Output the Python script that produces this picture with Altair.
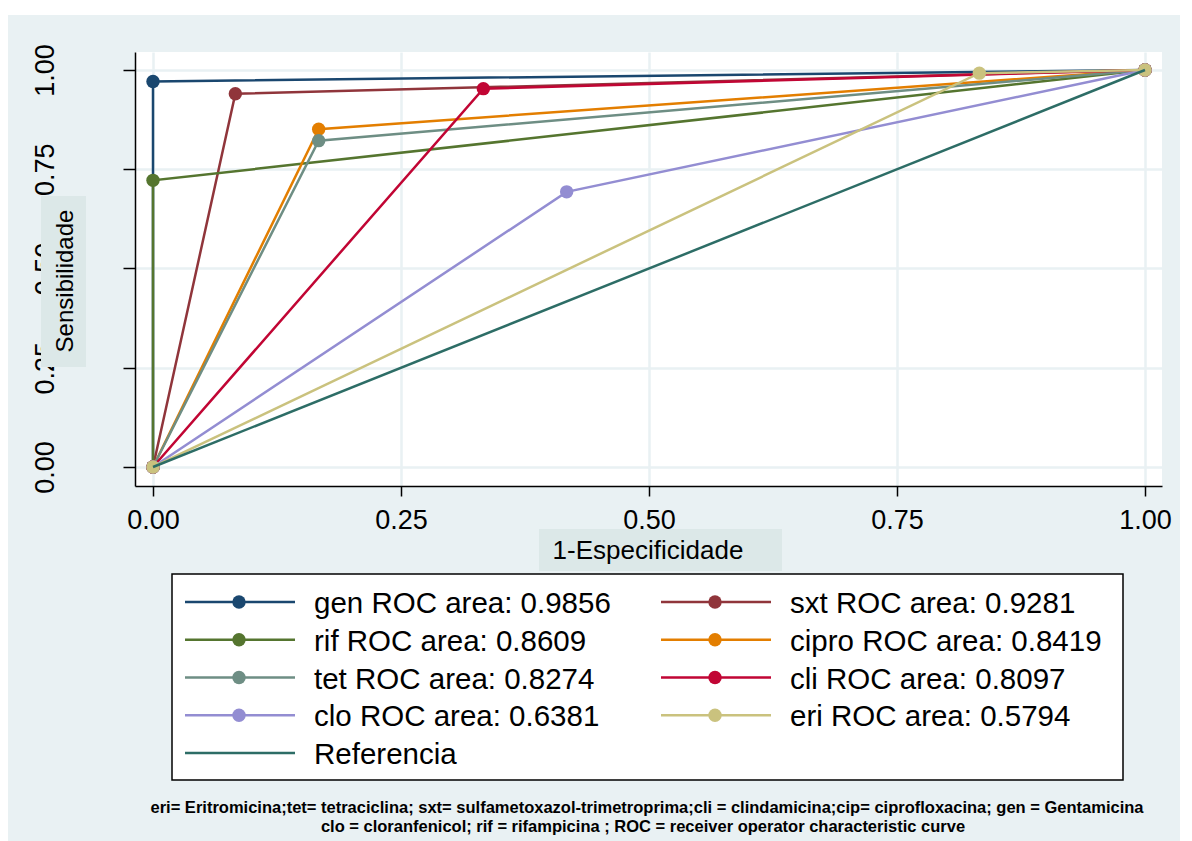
import altair as alt
import pandas as pd

# ---------------- data ----------------
SERIES = ["gen", "sxt", "rif", "cipro", "tet", "cli", "clo", "eri", "Referencia"]
LEGEND_LABELS = [
    "gen ROC area: 0.9856", "sxt ROC area: 0.9281",
    "rif ROC area: 0.8609", "cipro ROC area: 0.8419",
    "tet ROC area: 0.8274", "cli ROC area: 0.8097",
    "clo ROC area: 0.6381", "eri ROC area: 0.5794",
    "Referencia",
]
COLORS = ["#1a476f", "#90353b", "#55752f", "#e37e00", "#6e8e84",
          "#c10534", "#938dd2", "#cac27e", "#2d6d66"]

gen_fpr = [0.0, 0.0, 1.0]
gen_tpr = [0.0, 0.971, 1.0]
sxt_fpr = [0.0, 0.083, 1.0]
sxt_tpr = [0.0, 0.940, 1.0]
rif_fpr = [0.0, 0.0, 1.0]
rif_tpr = [0.0, 0.722, 1.0]
cipro_fpr = [0.0, 0.167, 1.0]
cipro_tpr = [0.0, 0.851, 1.0]
tet_fpr = [0.0, 0.167, 1.0]
tet_tpr = [0.0, 0.822, 1.0]
cli_fpr = [0.0, 0.333, 1.0]
cli_tpr = [0.0, 0.953, 1.0]
clo_fpr = [0.0, 0.417, 1.0]
clo_tpr = [0.0, 0.693, 1.0]
eri_fpr = [0.0, 0.833, 1.0]
eri_tpr = [0.0, 0.992, 1.0]
ref_fpr = [0.0, 1.0]
ref_tpr = [0.0, 1.0]

TICKS = [0.0, 0.25, 0.5, 0.75, 1.0]
X_TITLE = "1-Especificidade"
Y_TITLE = "Sensibilidade"
FOOTER = [
    "eri= Eritromicina;tet= tetraciclina; sxt= sulfametoxazol-trimetroprima;cli =  clindamicina;cip= ciprofloxacina; gen = Gentamicina",
    "clo = cloranfenicol; rif = rifampicina ; ROC = receiver operator characteristic curve",
]

CURVES = [
    ("gen", gen_fpr, gen_tpr), ("sxt", sxt_fpr, sxt_tpr), ("rif", rif_fpr, rif_tpr),
    ("cipro", cipro_fpr, cipro_tpr), ("tet", tet_fpr, tet_tpr), ("cli", cli_fpr, cli_tpr),
    ("clo", clo_fpr, clo_tpr), ("eri", eri_fpr, eri_tpr), ("Referencia", ref_fpr, ref_tpr),
]

rows = []
for name, xs_, ys_ in CURVES:
    for i, (a, b) in enumerate(zip(xs_, ys_)):
        rows.append({"series": name, "fpr": a, "tpr": b, "ord": i})
df = pd.DataFrame(rows)

leg_df = pd.DataFrame({
    "series": SERIES,
    "label": LEGEND_LABELS,
    "idx": list(range(len(SERIES))),
})
leg_df["col"] = leg_df["idx"] % 2
leg_df["row"] = leg_df["idx"] // 2
leg_df["marker"] = leg_df["series"] != "Referencia"

# ---------------- styling ----------------
FONT = "Liberation Sans"
BG = "#E9F1F3"
BOX = "#DCE8E8"
W, H = 1027, 434
LW = 2.5
MS = 180

color_scale = alt.Scale(domain=SERIES, range=COLORS)
xs = alt.Scale(domain=[-0.01815, 1.01714], nice=False, zero=False)
ys = alt.Scale(domain=[-0.0479, 1.0453], nice=False, zero=False)

x_axis = alt.Axis(values=TICKS, format=".2f", title=None, grid=True,
                  tickSize=10, labelPadding=32, labelBaseline="alphabetic",
                  labelFlush=False, labelOverlap=False)
y_axis = alt.Axis(values=TICKS, format=".2f", title=None, grid=True,
                  tickSize=12, labelPadding=70, labelAngle=270,
                  labelAlign="center", labelBaseline="alphabetic",
                  labelFlush=False, labelOverlap=False)

base = alt.Chart(df)
enc = dict(
    x=alt.X("fpr:Q", scale=xs, axis=x_axis),
    y=alt.Y("tpr:Q", scale=ys, axis=y_axis),
    color=alt.Color("series:N", scale=color_scale, legend=None),
)
data_layers = []
for name, _, _ in CURVES:
    sub = base.transform_filter(alt.datum.series == name)
    data_layers.append(sub.mark_line(strokeWidth=LW).encode(order="ord:Q", **enc))
    if name != "Referencia":
        data_layers.append(sub.mark_circle(size=MS, opacity=1).encode(**enc))

data_chart = alt.layer(*data_layers)

# ---------------- overlay (pixel coordinates relative to plot area) ----------------
PX = alt.Scale(domain=[0, 1000], range=[0, 1000], nice=False, zero=False)
one = pd.DataFrame({"a": [0]})

strip = alt.Chart(one).mark_rect(color="white").encode(
    x=alt.value(-127), x2=alt.value(W + 18), y=alt.value(-44), y2=alt.value(-37))

ybox = alt.Chart(one).mark_rect(color=BOX).encode(
    x=alt.value(-94), x2=alt.value(-49), y=alt.value(144), y2=alt.value(315))
ytxt = alt.Chart(one).mark_text(text=Y_TITLE, font=FONT, fontSize=24, angle=270,
                                align="center", baseline="alphabetic", color="black").encode(
    x=alt.value(-62), y=alt.value(229))
xbox = alt.Chart(one).mark_rect(color=BOX).encode(
    x=alt.value(404), x2=alt.value(647), y=alt.value(477), y2=alt.value(519))
xtxt = alt.Chart(one).mark_text(text=X_TITLE, font=FONT, fontSize=26,
                                align="center", baseline="alphabetic", color="black").encode(
    x=alt.value(513), y=alt.value(507))

frame = alt.Chart(one).mark_rect(fill="white", stroke="black", strokeWidth=1.5).encode(
    x=alt.value(37), x2=alt.value(988), y=alt.value(522), y2=alt.value(728))

leg = alt.Chart(leg_df).transform_calculate(
    lx1="50 + datum.col * 476",
    lx2="160 + datum.col * 476",
    lxm="104 + datum.col * 476",
    lxt="179 + datum.col * 476",
    lym="550 + datum.row * 37.75",
    lyt="561 + datum.row * 37.75",
)
leg_lines = leg.mark_rule(strokeWidth=LW).encode(
    x=alt.X("lx1:Q", scale=PX, axis=None), x2="lx2:Q",
    y=alt.Y("lym:Q", scale=PX, axis=None),
    color=alt.Color("series:N", scale=color_scale, legend=None))
leg_pts = leg.transform_filter(alt.datum.marker).mark_circle(size=MS, opacity=1).encode(
    x=alt.X("lxm:Q", scale=PX, axis=None),
    y=alt.Y("lym:Q", scale=PX, axis=None),
    color=alt.Color("series:N", scale=color_scale, legend=None))
leg_txt = leg.mark_text(align="left", baseline="alphabetic", font=FONT, fontSize=29.5,
                        color="black").encode(
    x=alt.X("lxt:Q", scale=PX, axis=None),
    y=alt.Y("lyt:Q", scale=PX, axis=None),
    text="label:N")

foot1 = alt.Chart(one).mark_text(text=FOOTER[0], font=FONT, fontSize=16.5, fontWeight="bold",
                                 align="center", baseline="alphabetic", color="black").encode(
    x=alt.value(512), y=alt.value(761))
foot2 = alt.Chart(one).mark_text(text=FOOTER[1], font=FONT, fontSize=16.5, fontWeight="bold",
                                 align="center", baseline="alphabetic", color="black").encode(
    x=alt.value(508), y=alt.value(780))

overlay = alt.layer(strip, ybox, ytxt, xbox, xtxt, frame, leg_lines, leg_pts, leg_txt, foot1, foot2)

chart = alt.layer(data_chart, overlay).resolve_scale(
    x="independent", y="independent"
).properties(
    width=W, height=H,
    padding={"left": 127, "top": 44, "right": 18, "bottom": 355},
    autosize=alt.AutoSizeParams(type="none"),
).configure(
    background=BG,
).configure_view(
    fill="white", strokeWidth=0,
).configure_axis(
    gridColor=BG, gridWidth=2.5,
    domainColor="black", domainWidth=1.5,
    tickColor="black", tickWidth=1.5,
    labelFont=FONT, labelFontSize=27, labelColor="black",
)

chart.save("out.html", embed_options={"renderer": "svg", "actions": False})
